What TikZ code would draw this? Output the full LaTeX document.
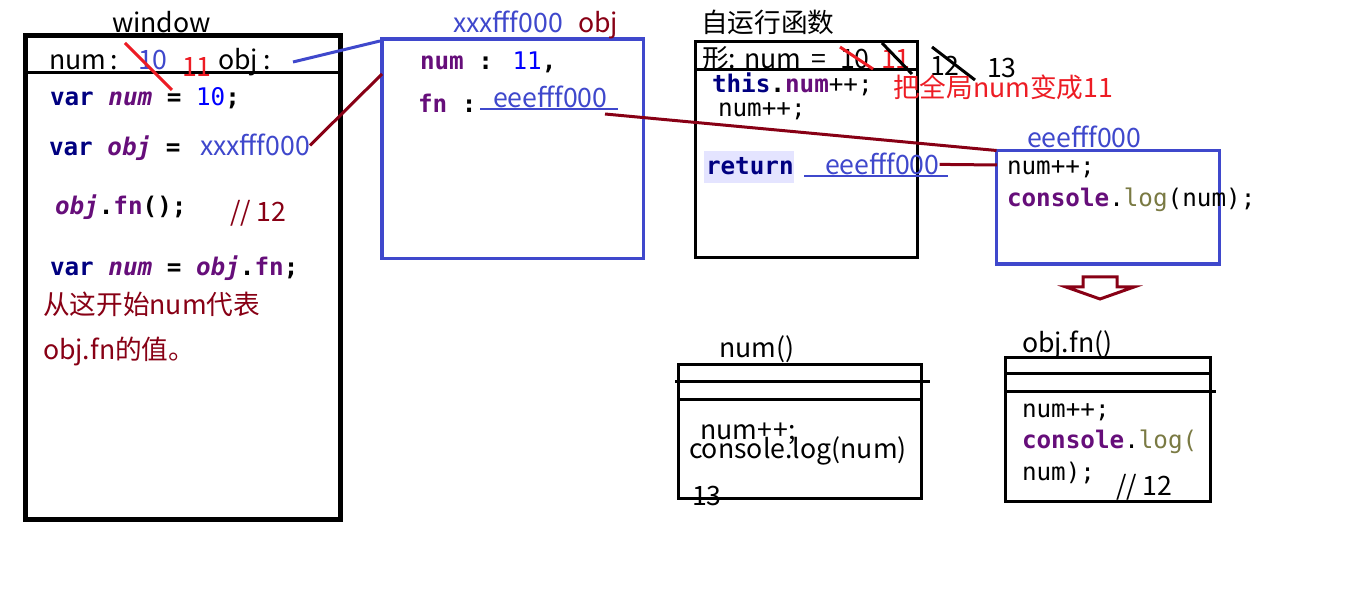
\documentclass[tikz,border=0pt]{standalone}
\usepackage{fontspec}
\setmainfont{Noto Sans CJK SC}
\newfontfamily\codefont{DejaVu Sans Mono}
\definecolor{bx}{HTML}{3F48CC}
\definecolor{rd}{HTML}{ED1C24}
\definecolor{drd}{HTML}{880015}
\definecolor{navy}{HTML}{000080}
\definecolor{purp}{HTML}{660E7A}
\definecolor{cblue}{HTML}{0000FF}
\definecolor{olv}{HTML}{7A7A43}
\definecolor{lav}{HTML}{E4E4FF}
\newcommand\cKw[1]{{\bfseries\color{navy}#1}}
\newcommand\cVar[1]{{\bfseries\itshape\color{purp}#1}}
\newcommand\cProp[1]{{\bfseries\color{purp}#1}}
\newcommand\cNum[1]{{\mdseries\color{cblue}#1}}
\newcommand\cFn[1]{{\color{olv}#1}}
\begin{document}
\begin{tikzpicture}[x=0.75pt,y=-0.75pt,
  t/.style={anchor=base west, inner sep=0pt, outer sep=0pt, font=\fontsize{20}{24}\selectfont},
  c/.style={anchor=base west, inner sep=0pt, outer sep=0pt, font=\codefont\fontsize{18.2}{22}\selectfont},
  cb/.style={c, font=\codefont\bfseries\fontsize{18.2}{22}\selectfont},
  frame/.style={draw=black, line width=2.25pt, inner sep=0pt, outer sep=0pt, anchor=north west},
  bframe/.style={frame, draw=bx, line width=2.6pt},
  link/.style={line width=2.25pt},
  uline/.style={draw=bx, line width=1.1pt}
]
\fill[white] (0,0) rectangle (1360,591);
\useasboundingbox (0,0) rectangle (1360,591);

% ---------- window box ----------
\node[frame, line width=3.75pt, minimum width=236.25pt, minimum height=363pt] (win) at (25.5,35.5) {};
\draw[line width=2.25pt] (25.5,72.5) -- (340.5,72.5);
\node[t] (wintitle) at (112,33) {window};
\node[t] (wnum) at (49,70) {num\,:};
\node[t, text=bx] (w10) at (138,70) {10};
\node[t, text=rd] (w11) at (182,77) {11};
\node[t] (wobj) at (218,70) {obj :};
\draw[rd, line width=2.25pt] (125,43) -- (172,90);

\node[cb] (l1) at (50,106) {\cKw{var} \cVar{num} = \cNum{10};};
\node[cb] (l2) at (49,156) {\cKw{var} \cVar{obj} =};
\node[t, text=bx] (xxxval) at (200,156) {xxxfff000};
\node[cb] (l3) at (55,215) {\cVar{obj}.\cProp{fn}();};
\node[t, text=drd] (c12a) at (230,222) {// 12};
\node[cb] (l4) at (50,276) {\cKw{var} \cVar{num} = \cVar{obj}.\cProp{fn};};
\node[t, text=drd] (zh1) at (43,315) {从这开始num代表};
\node[t, text=drd] (zh2) at (43,360) {obj.fn的值。};

% ---------- object box ----------
\node[bframe, minimum width=196.1pt, minimum height=164.6pt] (objbox) at (382,39) {};
\node[t, text=bx] (objaddr) at (453,33) {xxxfff000};
\node[t, text=drd] (objname) at (578,33) {obj};
\node[cb] (onum) at (420,70) {\cProp{num} : \cNum{11},};
\node[cb] (ofn) at (418,113) {\cProp{fn} :};
\node[t, text=bx] (fnval) at (493,108) {eeefff000};
\draw[uline] (480,109) -- (618,109);

\coordinate (wobjend) at (293,62);
\coordinate (objtl) at (380,41);
\coordinate (objl) at (382,74);
\coordinate (fnlink) at (605,114);
\draw[bx, link] (wobjend) -- (objtl);
\draw[drd, link] (xxxval.east) -- (objl);

% ---------- self-running function box ----------
\node[frame, minimum width=166.5pt, minimum height=161.6pt] (selfbox) at (695.5,42) {};
\draw[line width=2.25pt] (695.5,70) -- (917.5,70);
\node[t] (selftitle) at (701,33) {自运行函数};
\node[t] (selfarg) at (702,69) {形: num \,=};
\node[t] (s10) at (840,69) {10};
\node[t, text=rd] (s11) at (881,69) {11};
\draw[rd, line width=2.25pt] (840,47) -- (873,69);
\node[t] (s12) at (930,76) {12};
\node[t] (s13) at (987,78) {13};
\draw[line width=2.25pt] (882,43) -- (912,74);
\draw[line width=2.25pt] (932,47) -- (975,80);
\node[t, text=rd] (snote) at (893,98) {把全局num变成11};
\node[cb] (sthis) at (712,93) {\cKw{this}.\cProp{num}{\mdseries ++;}};
\node[c] (snum) at (718,117) {num++;};
\node[fill=lav, inner sep=0pt, outer sep=0pt, anchor=north west, minimum width=67.5pt, minimum height=24pt] (retbg) at (704,151) {};
\node[cb] (sret) at (706,175) {\cKw{return}};
\node[t, text=bx] (retval) at (825,175) {eeefff000};
\draw[uline] (804,176) -- (948,176);

% ---------- eeefff000 function box ----------
\node[bframe, minimum width=167.25pt, minimum height=85.1pt] (fnbox) at (996.5,150.5) {};
\node[t, text=bx] (fnaddr) at (1027,148) {eeefff000};
\node[c] (fnl1) at (1007,175) {num++;};
\node[c] (fnl2) at (1007,207) {\cProp{console}.\cFn{log}(num);};
\coordinate (fnin) at (997,165);
\draw[drd, link] (fnlink) -- (fnbox.north west);
\draw[drd, link] (retval.east) -- (fnin);

% ---------- hollow down arrow ----------
\draw[drd, line width=2.25pt, line join=miter]
  (1083,277) -- (1117,277) -- (1117,287) -- (1134,287) -- (1100,299)
  -- (1066,287) -- (1083,287) -- cycle;

% ---------- num() box ----------
\node[frame, minimum width=182.25pt, minimum height=100.5pt] (numbox) at (678.5,364.5) {};
\draw[line width=2.25pt] (675,382) -- (930,382);
\draw[line width=2.25pt] (678.5,400) -- (921.5,400);
\node[t] (numtitle) at (719,358) {num()};
\node[t] (nb1) at (700,440) {num+\kern1pt+;};
\node[t] (nb2) at (689,458) {console.log(num)};
\node[t] (nb3) at (692,505) {13};

% ---------- obj.fn() box ----------
\node[frame, minimum width=153.75pt, minimum height=108pt] (objfnbox) at (1005.5,357.5) {};
\draw[line width=2.25pt] (1007,374) -- (1210.5,374);
\draw[line width=2.25pt] (1005.5,392) -- (1216,392);
\node[t] (objfntitle) at (1022,353) {obj.fn()};
\node[c] (of1) at (1022,417) {num++;};
\node[c] (of2) at (1022,448) {\cProp{console}.\cFn{log(}};
\node[c] (of3) at (1022,480) {num);};
\node[t] (c12b) at (1116,495) {// 12};
\end{tikzpicture}
\end{document}
